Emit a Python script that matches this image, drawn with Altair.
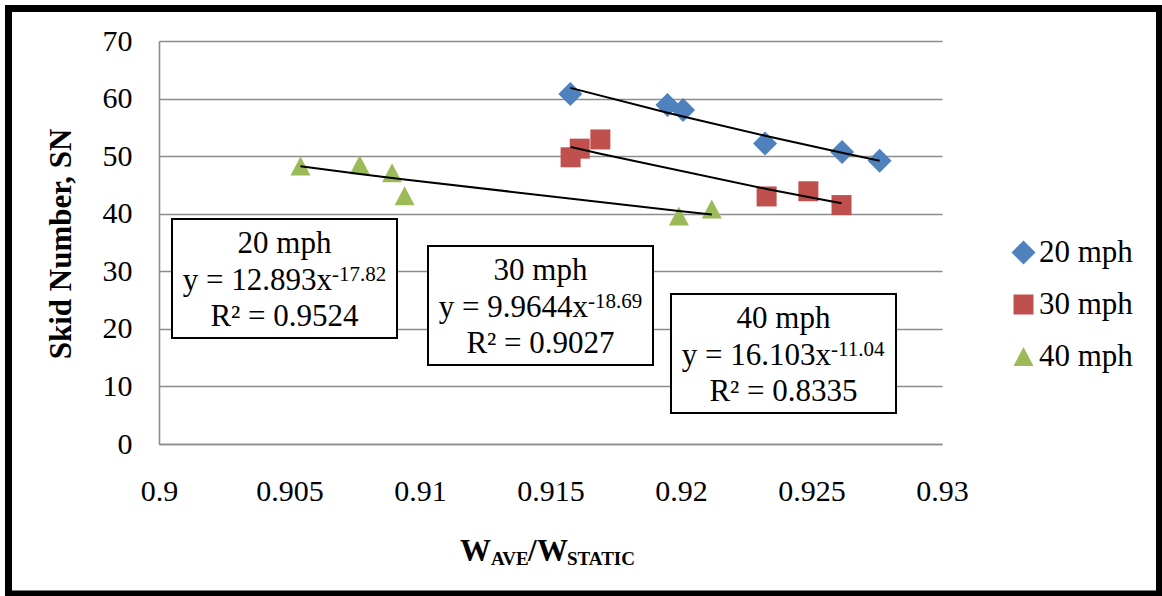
import altair as alt
import numpy as np
import pandas as pd

# ---- data -------------------------------------------------------------
SERIES = ["20 mph", "30 mph", "40 mph"]
COLORS = ["#4F81BD", "#C0504D", "#9BBB59"]
# symbol paths: diamond, square, upward triangle
SHAPES = [
    "M0,-1.2L1.2,0L0,1.2L-1.2,0Z",
    "M-1,-1L1,-1L1,1L-1,1Z",
    "M0,-0.95L1,0.95L-1,0.95Z",
]

W_RATIO_20 = [0.91576, 0.91948, 0.92008, 0.92322, 0.92617, 0.92761]
SN_20 = [60.8, 58.9, 58.0, 52.2, 50.7, 49.2]
W_RATIO_30 = [0.91577, 0.91612, 0.91691, 0.92328, 0.92488, 0.92615]
SN_30 = [49.8, 51.3, 52.9, 43.0, 43.9, 41.5]
W_RATIO_40 = [0.90542, 0.90769, 0.90893, 0.90941, 0.91992, 0.92118]
SN_40 = [48.3, 48.5, 47.1, 43.1, 39.6, 40.8]

# power-law trendlines  y = a * x^b
FIT_A = [12.893, 9.9644, 16.103]
FIT_B = [-17.82, -18.69, -11.04]
FIT_R2 = [0.9524, 0.9027, 0.8335]

X_TICKS = [0.9, 0.905, 0.91, 0.915, 0.92, 0.925, 0.93]
Y_TICKS = [0, 10, 20, 30, 40, 50, 60, 70]

FONT = "Liberation Serif"
GRID = "#8c8c8c"

# ---- tables -----------------------------------------------------------
xs_all = [W_RATIO_20, W_RATIO_30, W_RATIO_40]
ys_all = [SN_20, SN_30, SN_40]

points_df = pd.concat(
    [pd.DataFrame({"series": s, "w": xs, "sn": ys})
     for s, xs, ys in zip(SERIES, xs_all, ys_all)],
    ignore_index=True,
)

trend_rows = []
for s, xs, a, b in zip(SERIES, xs_all, FIT_A, FIT_B):
    for xv in sorted(xs):
        trend_rows.append({"series": s, "w": xv, "sn": a * xv ** b})
trend_df = pd.DataFrame(trend_rows)

# ---- scales / axes ----------------------------------------------------
x_enc = alt.X(
    "w:Q",
    scale=alt.Scale(domain=[0.9, 0.93], nice=False, zero=False),
    axis=alt.Axis(
        values=X_TICKS, format="~g", grid=False, ticks=False,
        domain=True, domainColor=GRID, domainWidth=1.5,
        labelFont=FONT, labelFontSize=30, labelColor="black",
        labelPadding=32, labelFlush=False, labelOverlap=False, title=None,
    ),
)
y_enc = alt.Y(
    "sn:Q",
    scale=alt.Scale(domain=[0, 70], nice=False),
    axis=alt.Axis(
        values=Y_TICKS, grid=True, gridColor=GRID, gridWidth=1.6,
        ticks=False, domain=True, domainColor=GRID, domainWidth=1.6,
        labelFont=FONT, labelFontSize=30, labelColor="black",
        labelPadding=27, labelBaseline="middle", title=None,
    ),
)

legend = alt.Legend(
    title=None, orient="none", legendX=849, legendY=196,
    labelFont=FONT, labelFontSize=31, labelColor="black",
    symbolSize=400, symbolStrokeWidth=0, symbolOpacity=1,
    rowPadding=20, labelOffset=0, padding=0,
)

points = alt.Chart(points_df).mark_point(filled=True, size=400, opacity=1).encode(
    x=x_enc,
    y=y_enc,
    color=alt.Color("series:N", scale=alt.Scale(domain=SERIES, range=COLORS), legend=legend),
    shape=alt.Shape("series:N", scale=alt.Scale(domain=SERIES, range=SHAPES), legend=legend),
)

trend = alt.Chart(trend_df).mark_line(color="black", strokeWidth=2).encode(
    x="w:Q", y="sn:Q", detail="series:N"
)

one = pd.DataFrame({"k": [0]})


def text_at(txt, x, y, size, weight="normal", align="center", angle=0):
    return alt.Chart(one).mark_text(
        font=FONT, fontSize=size, fontWeight=weight, color="black",
        align=align, baseline="alphabetic" if angle == 0 else "middle",
        angle=angle,
    ).encode(x=alt.value(x), y=alt.value(y), text=alt.value(txt))


def width_em(s):
    w = {".": 0.25, " ": 0.25, "=": 0.564, "-": 0.333}
    return sum(w.get(c, 0.5) for c in s)


# ---- trendline label boxes (pixel layout inside the plot) -------------
BOX_POS = [(13, 178), (269, 205), (512, 253)]
BOX_W, BOX_H = 225, 119
MAIN_FS, SUP_FS = 31, 21

layers = []
for s, a, b, r2, (bx, by) in zip(SERIES, FIT_A, FIT_B, FIT_R2, BOX_POS):
    cx = bx + BOX_W / 2
    layers.append(
        alt.Chart(one).mark_rect(fill="white", stroke="black", strokeWidth=2).encode(
            x=alt.value(bx), x2=alt.value(bx + BOX_W),
            y=alt.value(by), y2=alt.value(by + BOX_H),
        )
    )
    main = f"y = {a:g}x"
    sup = f"{b:g}"
    wm = width_em(main) * MAIN_FS
    ws = width_em(sup) * SUP_FS
    anchor = cx + (wm - ws) / 2
    layers += [
        text_at(s, cx, by + 33.5, MAIN_FS),
        text_at(main, anchor, by + 70.5, MAIN_FS, align="right"),
        text_at(sup, anchor, by + 61.5, SUP_FS, align="left"),
        text_at(f"R² = {r2:.4f}", cx, by + 107.3, MAIN_FS),
    ]

# ---- axis titles ------------------------------------------------------
titles = [
    text_at("Skid Number, SN", -97, 203, 31, weight="bold", angle=270),
    text_at("W", 301, 520, 31, weight="bold", align="left"),
    text_at("AVE", 332, 524, 19, weight="bold", align="left"),
    text_at("/", 369, 520, 31, weight="bold", align="left"),
    text_at("W", 378, 520, 31, weight="bold", align="left"),
    text_at("STATIC", 408, 524, 19, weight="bold", align="left"),
]

# outer frame around the whole figure
frame = alt.Chart(one).mark_rect(fillOpacity=0, stroke="black", strokeWidth=7).encode(
    x=alt.value(-150.5), x2=alt.value(1000.5),
    y=alt.value(-32.5), y2=alt.value(553),
)

chart = alt.layer(points, trend, *layers, *titles, frame).properties(
    width=783,
    height=403,
    padding={"left": 159, "top": 41, "right": 220, "bottom": 152},
    autosize=alt.AutoSizeParams(type="none"),
    background="white",
).configure_view(stroke=None)

chart.save("out.html", embed_options={"renderer": "svg", "actions": False})
